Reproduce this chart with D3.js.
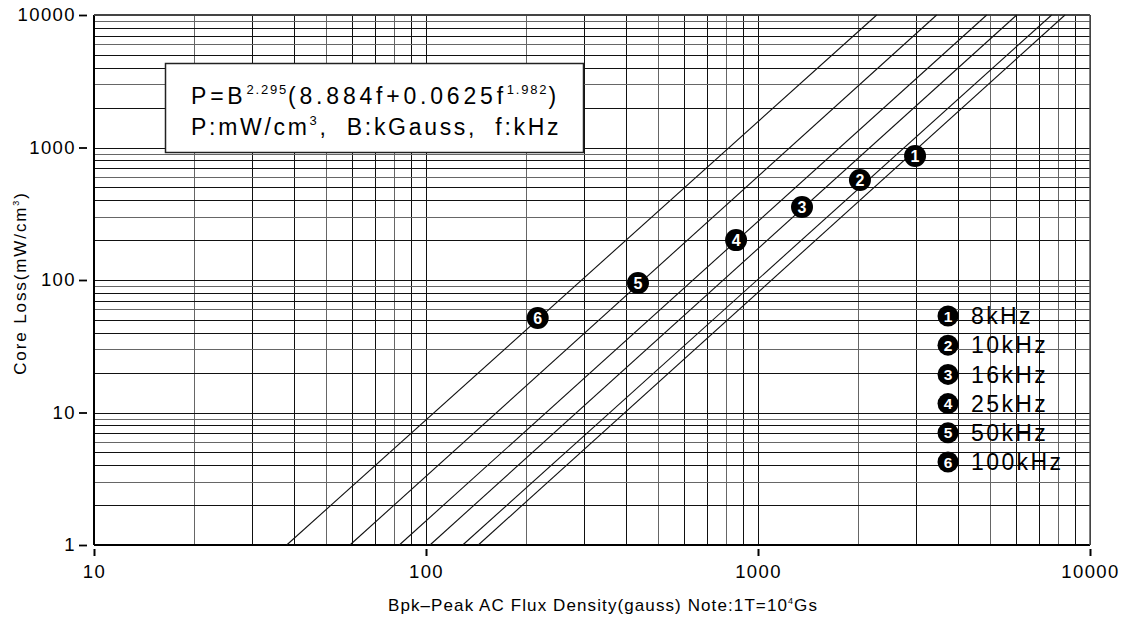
<!DOCTYPE html>
<html>
<head>
<meta charset="utf-8">
<script src="https://cdn.jsdelivr.net/npm/d3@7"></script>
<style>
  body { margin: 0; background: #fff; }
  svg { display: block; font-family: "Liberation Sans", Arial, sans-serif; }
</style>
</head>
<body>
<svg width="1129" height="618"></svg>
<script>
// curves (straight lines on log-log)
const freqNames = ["8kHz", "10kHz", "16kHz", "25kHz", "50kHz", "100kHz"];
const lineStartB = [143.7, 129, 102.8, 83.1, 59.0, 38.05];   // B where P = 1
const lineEndB = [8408, 7665, 6015, 4886, 3453, 2278];       // B where P = 10000
const markerB = [2972, 2028, 1357, 859, 435, 217];
const markerP = [863, 569, 356, 200, 94.8, 51.6];

const xTicks = [10, 100, 1000, 10000];
const yTicks = [1, 10, 100, 1000, 10000];

let svg = d3.select("svg");
let margin = {left: 94, top: 15, right: 39, bottom: 73};
let width = 1129 - margin.left - margin.right;
let height = 618 - margin.top - margin.bottom;

let x = d3.scaleLog().domain([10, 10000]).range([0, width]);
let y = d3.scaleLog().domain([1, 10000]).range([height, 0]);

let g = svg.append("g").attr("transform", "translate(" + margin.left + "," + margin.top + ")");

// grid values 1..9 per decade
let gridX = [];
for (let d = 10; d < 10000; d *= 10) for (let k = 1; k < 10; k++) gridX.push(d * k);
gridX.push(10000);
let gridY = [];
for (let d = 1; d < 10000; d *= 10) for (let k = 1; k < 10; k++) gridY.push(d * k);
gridY.push(10000);

let grid = g.append("g").attr("shape-rendering", "crispEdges");
grid.selectAll(".gx").data(gridX).enter().append("line")
    .attr("x1", d => Math.round(x(d)) + 0.5)
    .attr("x2", d => Math.round(x(d)) + 0.5)
    .attr("y1", 0).attr("y2", height)
    .attr("stroke", (d, i) => i % 3 == 1 ? "#666" : "#111")
    .attr("stroke-width", 1.2);
grid.selectAll(".gy").data(gridY).enter().append("line")
    .attr("y1", d => Math.round(y(d)) + 0.5)
    .attr("y2", d => Math.round(y(d)) + 0.5)
    .attr("x1", 0).attr("x2", width)
    .attr("stroke", (d, i) => i % 3 == 2 ? "#666" : "#111")
    .attr("stroke-width", 1.2);

// axis lines
g.append("line").attr("x1", 0).attr("x2", 0).attr("y1", 0).attr("y2", height)
    .attr("stroke", "#000").attr("stroke-width", 2);
g.append("line").attr("x1", 0).attr("x2", width).attr("y1", height).attr("y2", height)
    .attr("stroke", "#000").attr("stroke-width", 2);
g.append("line").attr("x1", 0).attr("x2", width).attr("y1", 0).attr("y2", 0)
    .attr("stroke", "#444").attr("stroke-width", 2);
g.append("line").attr("x1", width).attr("x2", width).attr("y1", 0).attr("y2", height)
    .attr("stroke", "#555").attr("stroke-width", 1.5);

// loss lines
let lines = freqNames.map((f, i) => [[lineStartB[i], 1], [lineEndB[i], 10000]]);
let lineGen = d3.line().x(d => x(d[0])).y(d => y(d[1]));
g.append("g").selectAll("path").data(lines).enter().append("path")
    .attr("d", lineGen)
    .attr("fill", "none")
    .attr("stroke", "#111")
    .attr("stroke-width", 1.1);

// y axis
let yAxis = g.append("g")
    .call(d3.axisLeft(y).tickValues(yTicks).tickFormat(d3.format("d")).tickSize(0).tickPadding(18));
yAxis.select(".domain").remove();
yAxis.selectAll("text").attr("font-size", 18.5).attr("letter-spacing", 1.4).attr("fill", "#000")
    .attr("font-family", "Liberation Sans, Arial, sans-serif");
yAxis.selectAll(".tick").append("line")
    .attr("x1", -15).attr("x2", -7).attr("stroke", "#000").attr("stroke-width", 1.8);

// x axis
let xAxis = g.append("g").attr("transform", "translate(0," + height + ")")
    .call(d3.axisBottom(x).tickValues(xTicks).tickFormat(d3.format("d")).tickSize(0).tickPadding(20));
xAxis.select(".domain").remove();
xAxis.selectAll("text").attr("font-size", 18.5).attr("letter-spacing", 1.4).attr("fill", "#000")
    .attr("font-family", "Liberation Sans, Arial, sans-serif");
xAxis.selectAll(".tick").append("line")
    .attr("y1", 4).attr("y2", 11).attr("stroke", "#000").attr("stroke-width", 2);

// axis titles
let xt = svg.append("text")
    .attr("x", 603).attr("y", 611)
    .attr("text-anchor", "middle").attr("font-size", 17).attr("letter-spacing", 1.1);
xt.append("tspan").text("Bpk\u2013Peak AC Flux Density(gauss) Note:1T=10");
xt.append("tspan").attr("font-size", 9).attr("dy", -7).text("4");
xt.append("tspan").attr("dy", 7).text("Gs");

let yt = svg.append("text")
    .attr("transform", "translate(26,283) rotate(-90)")
    .attr("text-anchor", "middle").attr("font-size", 17).attr("letter-spacing", 1.9);
yt.append("tspan").text("Core Loss(mW/cm");
yt.append("tspan").attr("font-size", 9).attr("dy", -7).text("3");
yt.append("tspan").attr("dy", 7).text(")");

// formula box
svg.append("rect")
    .attr("x", 165.5).attr("y", 63.5).attr("width", 418).attr("height", 89)
    .attr("fill", "#fff").attr("stroke", "#222").attr("stroke-width", 1.5);
let f1 = svg.append("text").attr("x", 191).attr("y", 104).attr("font-size", 23).attr("letter-spacing", 3.8);
f1.append("tspan").text("P=B");
f1.append("tspan").attr("font-size", 13).attr("letter-spacing", 1.8).attr("dy", -10).text("2.295");
f1.append("tspan").attr("dy", 10).text("(8.884f+0.0625f");
f1.append("tspan").attr("font-size", 13).attr("letter-spacing", 1.8).attr("dy", -10).text("1.982");
f1.append("tspan").attr("dy", 10).text(")");
let f2 = svg.append("text").attr("x", 191).attr("y", 135).attr("font-size", 23).attr("letter-spacing", 2.7);
f2.append("tspan").text("P:mW/cm");
f2.append("tspan").attr("font-size", 13).attr("dy", -10).text("3");
f2.append("tspan").attr("dy", 10).attr("xml:space", "preserve").text(",  B:kGauss,  f:kHz");

// numbered markers on the lines
let markers = g.append("g").selectAll("g").data(freqNames).enter().append("g")
    .attr("transform", (d, i) => "translate(" + x(markerB[i]) + "," + y(markerP[i]) + ")");
markers.append("circle").attr("r", 11).attr("fill", "#000");
markers.append("text").text((d, i) => i + 1)
    .attr("text-anchor", "middle").attr("dy", "0.36em")
    .attr("font-size", 16).attr("font-weight", "bold").attr("fill", "#fff");

// legend
let legend = svg.append("g").selectAll("g").data(freqNames).enter().append("g")
    .attr("transform", (d, i) => "translate(948," + (316 + i * 29.2) + ")");
legend.append("circle").attr("r", 10.5).attr("fill", "#000");
legend.append("text").text((d, i) => i + 1)
    .attr("text-anchor", "middle").attr("dy", "0.36em")
    .attr("font-size", 15.5).attr("font-weight", "bold").attr("fill", "#fff");
legend.append("text").text(d => d)
    .attr("x", 23).attr("dy", "0.36em")
    .attr("font-size", 23).attr("letter-spacing", 2.4).attr("fill", "#000");
</script>
</body>
</html>
